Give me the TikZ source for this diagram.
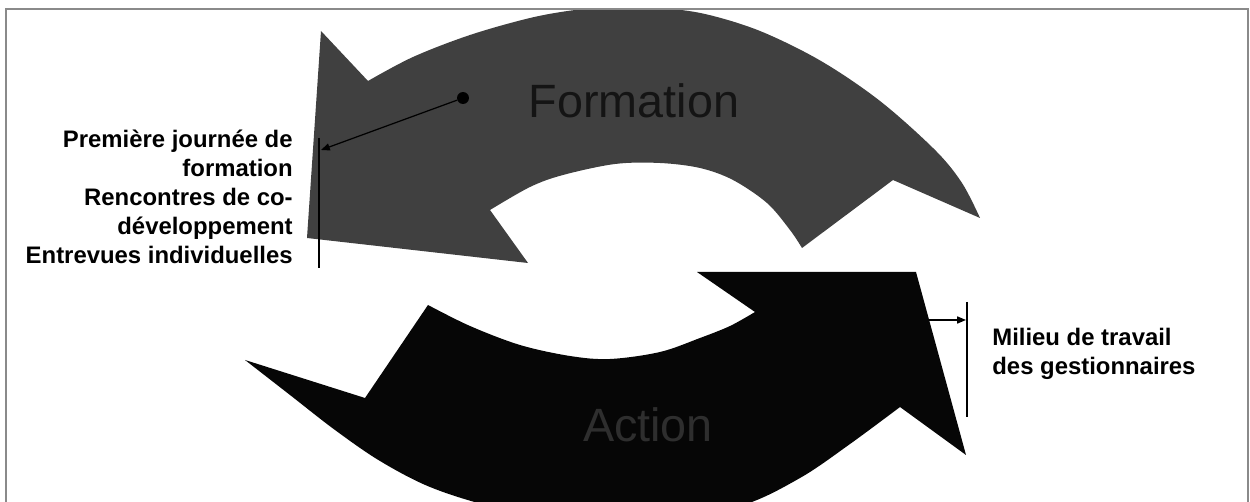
\documentclass[tikz,border=0pt]{standalone}
\usepackage{fontspec}
\setmainfont{Liberation Sans}
\usetikzlibrary{arrows.meta}
\definecolor{topgray}{HTML}{404040}
\definecolor{botblack}{HTML}{060606}
\definecolor{framegray}{HTML}{8A8A8A}
\definecolor{actiontext}{HTML}{2E2E2E}
\begin{document}
\begin{tikzpicture}[x=0.02cm,y=-0.02cm,
  lbl/.style={font=\fontsize{13.6}{16.4}\selectfont\bfseries, inner sep=0pt},
  bigword/.style={font=\fontsize{26.6}{30}\selectfont, inner sep=0pt},
  bar/.style={line width=0.8pt, black},
  pointer/.style={line width=0.7pt, -{Triangle[length=5pt,width=4pt]}},
  framel/.style={framegray, line width=1.4pt}]
\useasboundingbox (0,0) rectangle (1250,502);
\fill[white] (0,0) rectangle (1250,502);
\begin{scope}
\clip (0,9) rectangle (1250,502);
% upper arrow (Formation)
\fill[topgray] (307,238) -- (321,31) -- plot[smooth,tension=0.55] coordinates {(368,81) (413,57) (470,35) (530,18) (575,10) (615,7) (660,8) (705,14) (760,31) (821,61) (880,101) (935,150) (962,183) (980,218)} -- (893,180) -- plot[smooth,tension=0.55] coordinates {(802,248) (790,230) (767,203) (733,180) (700,168) (660,163) (615,164) (563,175) (530,187) (490,210)} -- (528,263) -- cycle;
% lower arrow (Action)
\fill[botblack] (916,272) -- (966,455) -- plot[smooth,tension=0.55] coordinates {(900,407) (850,444) (800,478) (740,506) (650,522) (560,518) (490,506) (430,487) (380,461) (335,430) (290,395) (245,360)} -- (365,398) -- plot[smooth,tension=0.55] coordinates {(428,305) (470,326) (520,345) (570,356) (610,359) (660,352) (700,338) (730,326) (755,312)} -- (697,272) -- cycle;
\end{scope}
% frame
\draw[framel] (6,502) -- (6,9) -- (1248,9) -- (1248,502);
% words on arrows
\node[bigword, text=black!92] (formation) at (634,101) {Formation};
\node[bigword, text=actiontext] (action) at (648,425) {Action};
% left labels
\node[lbl, align=right, anchor=north east] (leftlbl) at (293,130) {Première journée de\\formation\\Rencontres de co-\\développement\\Entrevues individuelles};
\coordinate (lbTop) at (319,138);
\coordinate (lbBot) at (319,268);
\coordinate (lbHit) at (321,150);
\draw[bar] (lbTop) -- (lbBot);
\node[circle, fill=black, inner sep=0pt, minimum size=6.8pt] (dot) at (463,98) {};
\draw[pointer] (dot) -- (lbHit);
% right labels
\node[lbl, align=left, anchor=north west] (rightlbl) at (992,328) {Milieu de travail\\des gestionnaires};
\coordinate (rbTop) at (967,302);
\coordinate (rbBot) at (967,417);
\coordinate (raStart) at (929,320);
\coordinate (rbHit) at (966,320);
\draw[bar] (rbTop) -- (rbBot);
\draw[pointer] (raStart) -- (rbHit);
\end{tikzpicture}
\end{document}
